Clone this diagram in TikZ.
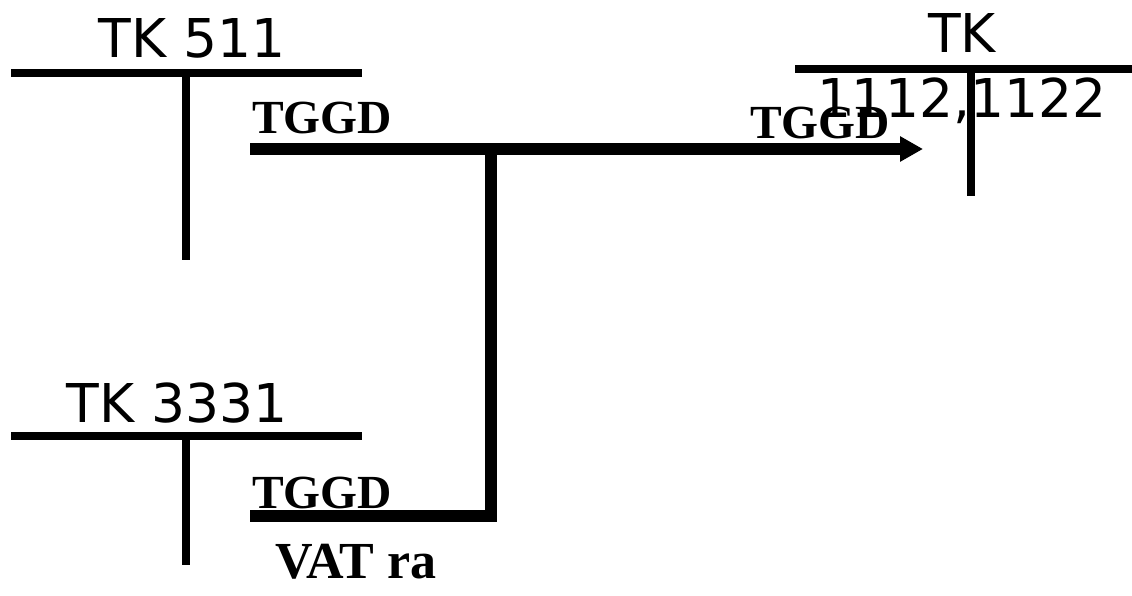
\documentclass[tikz,border=0pt]{standalone}
\usepackage{fontspec}
\setmainfont{Liberation Serif}
\newfontfamily\dejavu{DejaVu Sans}
\usetikzlibrary{arrows.meta}
\tikzset{
  acct/.style={line width=8pt},
  flow/.style={line width=12pt},
  acctlabel/.style={anchor=base, inner sep=0pt, font=\dejavu\fontsize{53.5}{60}\selectfont},
  flowlabel/.style={anchor=base west, inner sep=0pt, font=\bfseries\fontsize{47.5}{52}\selectfont},
}
\begin{document}
\begin{tikzpicture}[x=1pt,y=-1pt]
\useasboundingbox (0,0) rectangle (1132,595);
% labels
\node[acctlabel] (l511) at (192,57) {TK 511};
\node[acctlabel] (l3331) at (177,422) {TK 3331};
\node[acctlabel] (l11a) at (962,52) {TK};
\node[acctlabel] (l11b) at (962,117) {1112,1122};
\node[flowlabel] (t1) at (252,133) {TGGD};
\node[flowlabel] (t2) at (750,138) {TGGD};
\node[flowlabel] (t3) at (252,508) {TGGD};
\node[flowlabel, font=\bfseries\fontsize{52}{56}\selectfont] (vat) at (275,578) {VAT ra};
% T accounts
\draw[acct] (11,73) -- (362,73);
\draw[acct] (186,73) -- (186,260);
\draw[acct] (11,436) -- (362,436);
\draw[acct] (186,436) -- (186,565);
\draw[acct] (795,69) -- (1132,69);
\draw[acct] (971,69) -- (971,196);
% flows
\coordinate (a1) at (250,149);
\coordinate (a2) at (923,149);
\coordinate (j) at (491,149);
\coordinate (b1) at (250,516);
\coordinate (b2) at (491,516);
\draw[flow, -{Triangle[length=23pt,width=24pt]}] (a1) -- (a2);
\draw[flow, line join=miter] (b1) -- (b2) -- (j);
\end{tikzpicture}
\end{document}
